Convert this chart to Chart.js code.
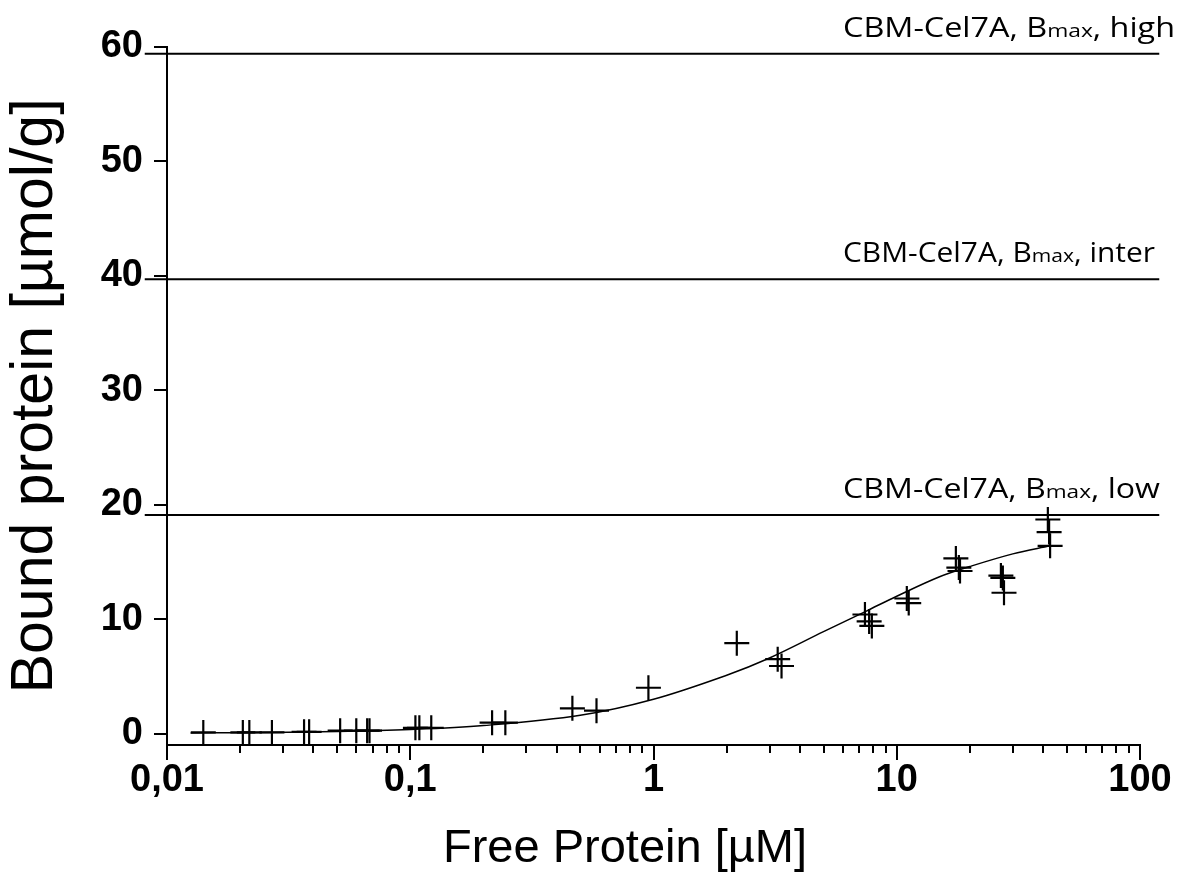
<!DOCTYPE html>
<html>
<head>
<meta charset="utf-8">
<script src="https://cdn.jsdelivr.net/npm/chart.js@4"></script>
<style>
  html, body { margin: 0; padding: 0; background: #fff; }
  #wrap { width: 1185px; height: 872px; }
</style>
</head>
<body>
<div id="wrap"><canvas id="chart"></canvas></div>
<script>
// measured points (free vs bound protein)
const freeProtein = [0.0141, 0.0205, 0.0218, 0.027, 0.0366, 0.0384, 0.0515, 0.060, 0.0665, 0.068,
  0.105, 0.109, 0.122, 0.217, 0.246, 0.464, 0.583, 0.953, 2.20, 3.24, 3.36,
  7.4, 7.7, 7.9, 11.0, 11.2, 17.5, 18.0, 18.2, 26.8, 27.3, 27.6, 41.8, 42.3, 42.7];
const boundProtein = [0.1, 0.1, 0.1, 0.1, 0.15, 0.15, 0.25, 0.25, 0.25, 0.25,
  0.5, 0.5, 0.5, 0.95, 0.95, 2.2, 2.0, 4.0, 7.9, 6.5, 5.9,
  10.4, 9.8, 9.4, 11.8, 11.4, 15.3, 14.5, 14.2, 13.8, 13.6, 12.3, 18.7, 17.6, 16.4];

// fitted curve
const fitX = [0.0125, 0.02, 0.05, 0.1, 0.2, 0.5, 1, 2, 3, 5, 7.5, 10, 15, 20, 30, 42.7];
const fitY = [0.05, 0.08, 0.18, 0.35, 0.7, 1.6, 3.0, 5.1, 6.6, 8.9, 10.7, 12.0, 13.7, 14.6, 15.7, 16.4];

// Bmax reference lines
const bmaxLevels = ['high', 'inter', 'low'];
const bmaxValues = [59.4, 39.7, 19.1];
const bmaxSpan = [0.0081, 120];

// axis ticks
const decades = [0.01, 0.1, 1, 10, 100];
const decadeLabels = ['0,01', '0,1', '1', '10', '100'];
const yTicks = [0, 10, 20, 30, 40, 50, 60];

const FONT = "'Liberation Sans', Arial, sans-serif";

const datasets = [
  {
    data: freeProtein.map((v, i) => ({ x: v, y: boundProtein[i] })),
    pointStyle: 'cross',
    pointRadius: 12.5,
    pointBorderWidth: 2.2,
    borderColor: '#000',
    backgroundColor: '#000'
  },
  {
    data: fitX.map((v, i) => ({ x: v, y: fitY[i] })),
    showLine: true,
    pointRadius: 0,
    borderWidth: 1.5,
    borderColor: '#000',
    tension: 0.35
  }
];
bmaxValues.forEach(v => {
  datasets.push({
    data: bmaxSpan.map(x => ({ x: x, y: v })),
    showLine: true,
    pointRadius: 0,
    borderWidth: 2,
    borderColor: '#000',
    clip: false
  });
});

// tick marks, Bmax labels, x title
const decor = {
  id: 'decor',
  afterDraw(chart) {
    const { ctx, chartArea, scales: { x, y } } = chart;
    ctx.save();
    ctx.strokeStyle = '#000';
    ctx.lineWidth = 2;
    ctx.beginPath();
    x.ticks.forEach(t => {
      const px = Math.round(x.getPixelForValue(t.value));
      const len = decades.includes(t.value) ? 15 : 8;
      ctx.moveTo(px, chartArea.bottom);
      ctx.lineTo(px, chartArea.bottom + len);
    });
    yTicks.forEach(v => {
      const py = Math.round(y.getPixelForValue(v));
      ctx.moveTo(chartArea.left, py);
      ctx.lineTo(chartArea.left - 13, py);
    });
    ctx.stroke();

    ctx.fillStyle = '#000';
    ctx.textBaseline = 'alphabetic';
    ctx.textAlign = 'left';
    const big = "27px 'Open Sans', sans-serif";
    const small = "19px 'Open Sans', sans-serif";
    bmaxLevels.forEach((lvl, i) => {
      const py = y.getPixelForValue(bmaxValues[i]) - 17;
      const parts = [['CBM-Cel7A, B', big], ['max', small], [', ' + lvl, big]];
      let w = 0;
      parts.forEach(p => { ctx.font = p[1]; w += ctx.measureText(p[0]).width; });
      const target = [332, 312, 317][i];
      ctx.save();
      ctx.translate(843, py);
      ctx.scale(target / w, 1);
      let px = 0;
      parts.forEach(p => {
        ctx.font = p[1];
        ctx.fillText(p[0], px, 0);
        px += ctx.measureText(p[0]).width;
      });
      ctx.restore();
    });

    ctx.font = '47px ' + FONT;
    ctx.textAlign = 'center';
    ctx.fillText('Free Protein [µM]', 625, 862);
    ctx.restore();
  }
};

new Chart(document.getElementById('chart'), {
  type: 'scatter',
  data: { datasets: datasets },
  plugins: [decor],
  options: {
    responsive: true,
    maintainAspectRatio: false,
    animation: false,
    layout: { padding: { top: 44, right: 45, left: 0, bottom: 0 } },
    plugins: { legend: { display: false }, tooltip: { enabled: false } },
    scales: {
      x: {
        type: 'logarithmic',
        min: 0.01,
        max: 100,
        afterBuildTicks: scale => {
          const ticks = [];
          for (let e = -2; e <= 1; e++) {
            for (let m = 1; m <= 9; m++) {
              ticks.push({ value: parseFloat((m * Math.pow(10, e)).toPrecision(6)) });
            }
          }
          ticks.push({ value: 100 });
          scale.ticks = ticks;
        },
        afterFit: scale => { scale.height = 127; },
        grid: { drawOnChartArea: false, drawTicks: false },
        border: { color: '#000', width: 2 },
        ticks: {
          autoSkip: false,
          maxRotation: 0,
          padding: 13,
          color: '#000',
          font: { family: FONT, size: 38, weight: 'bold' },
          callback: v => {
            const i = decades.indexOf(v);
            return i >= 0 ? decadeLabels[i] : '';
          }
        }
      },
      y: {
        min: -1,
        max: 60,
        afterFit: scale => { scale.width = 167; },
        grid: { drawOnChartArea: false, drawTicks: false },
        border: { color: '#000', width: 2 },
        ticks: {
          stepSize: 10,
          includeBounds: false,
          padding: 24,
          color: '#000',
          font: { family: FONT, size: 38, weight: 'bold' }
        },
        title: {
          display: true,
          text: 'Bound protein [µmol/g]',
          color: '#000',
          padding: 0,
          font: { family: FONT, size: 59, lineHeight: 1.2 }
        }
      }
    }
  }
});
</script>
</body>
</html>
